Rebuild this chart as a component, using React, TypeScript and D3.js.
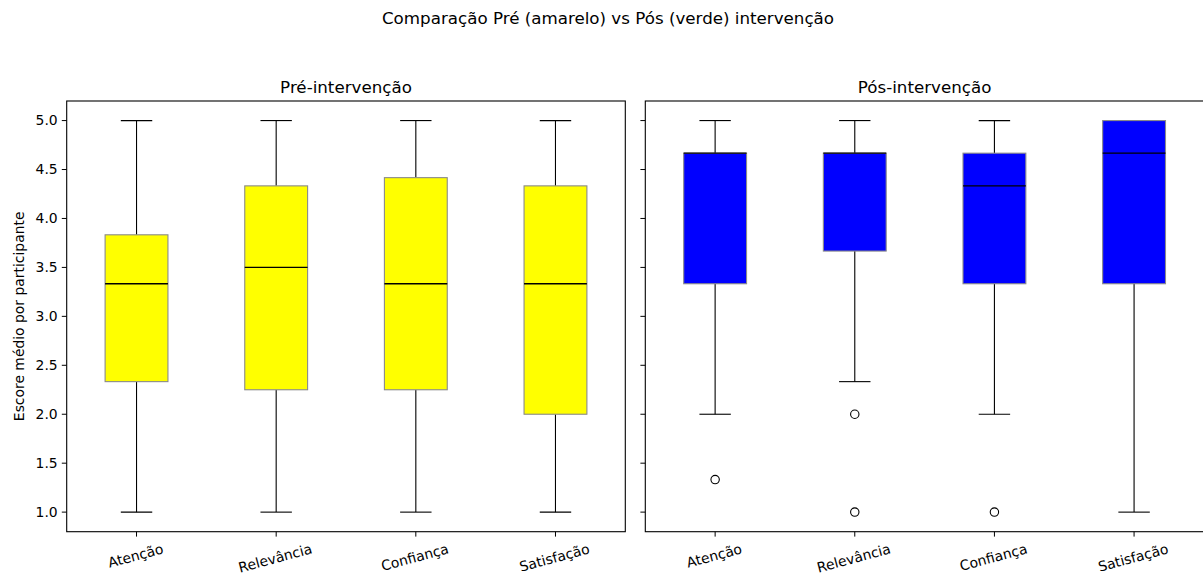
import React, { useEffect, useRef } from "react";
import * as d3 from "d3";

// Likert-scale categories (one box per category)
const categories = ["Atenção", "Relevância", "Confiança", "Satisfação"];

// Pre-intervention five-number summaries per category
const preWhiskerLow = [1.0, 1.0, 1.0, 1.0];
const preQ1 = [2.333, 2.25, 2.25, 2.0];
const preMedian = [3.333, 3.5, 3.333, 3.333];
const preQ3 = [3.833, 4.333, 4.417, 4.333];
const preWhiskerHigh = [5.0, 5.0, 5.0, 5.0];
const preOutliers: number[][] = [[], [], [], []];

// Post-intervention five-number summaries per category
const postWhiskerLow = [2.0, 2.333, 2.0, 1.0];
const postQ1 = [3.333, 3.667, 3.333, 3.333];
const postMedian = [4.667, 4.667, 4.333, 4.667];
const postQ3 = [4.667, 4.667, 4.667, 5.0];
const postWhiskerHigh = [5.0, 5.0, 5.0, 5.0];
const postOutliers: number[][] = [[1.333], [2.0, 1.0], [1.0], []];

const yTicks = [1.0, 1.5, 2.0, 2.5, 3.0, 3.5, 4.0, 4.5, 5.0];

const WIDTH = 1203;
const HEIGHT = 573;
const FONT = "DejaVu Sans, sans-serif";
const TICK_FS = 13.9;
const TITLE_FS = 16.7;

type Panel = {
  title: string;
  left: number;
  fill: string;
  low: number[];
  q1: number[];
  med: number[];
  q3: number[];
  high: number[];
  outliers: number[][];
  showYLabels: boolean;
};

export default function App() {
  const ref = useRef<SVGSVGElement | null>(null);

  useEffect(() => {
    const svg = d3.select(ref.current);
    svg.selectAll("*").remove();

    const top = 101;
    const bottom = 531.7;
    const panelW = 558.6;

    const y = d3.scaleLinear().domain([0.8, 5.2]).range([bottom, top]);

    svg
      .append("text")
      .attr("x", 608)
      .attr("y", 24)
      .attr("text-anchor", "middle")
      .attr("font-family", FONT)
      .attr("font-size", TITLE_FS)
      .attr("fill", "#000")
      .text("Comparação Pré (amarelo) vs Pós (verde) intervenção");

    svg
      .append("text")
      .attr("transform", `translate(23.5,${(top + bottom) / 2}) rotate(-90)`)
      .attr("text-anchor", "middle")
      .attr("font-family", FONT)
      .attr("font-size", TICK_FS)
      .attr("fill", "#000")
      .text("Escore médio por participante");

    const panels: Panel[] = [
      {
        title: "Pré-intervenção",
        left: 66.7,
        fill: "#ffff00",
        low: preWhiskerLow,
        q1: preQ1,
        med: preMedian,
        q3: preQ3,
        high: preWhiskerHigh,
        outliers: preOutliers,
        showYLabels: true,
      },
      {
        title: "Pós-intervenção",
        left: 645.3,
        fill: "#0000ff",
        low: postWhiskerLow,
        q1: postQ1,
        med: postMedian,
        q3: postQ3,
        high: postWhiskerHigh,
        outliers: postOutliers,
        showYLabels: false,
      },
    ];

    panels.forEach((p) => {
      const x = d3.scaleLinear().domain([0.5, 4.5]).range([p.left, p.left + panelW]);
      const g = svg.append("g");
      const boxW = x(0.45) - x(0);
      const capW = x(0.225) - x(0);

      // subplot title
      g.append("text")
        .attr("x", p.left + panelW / 2)
        .attr("y", top - 8)
        .attr("text-anchor", "middle")
        .attr("font-family", FONT)
        .attr("font-size", TITLE_FS)
        .attr("fill", "#000")
        .text(p.title);

      categories.forEach((c, i) => {
        const cx = x(i + 1);
        // whiskers
        g.append("line")
          .attr("x1", cx).attr("x2", cx)
          .attr("y1", y(p.q3[i])).attr("y2", y(p.high[i]))
          .attr("stroke", "#000").attr("stroke-width", 1.1);
        g.append("line")
          .attr("x1", cx).attr("x2", cx)
          .attr("y1", y(p.q1[i])).attr("y2", y(p.low[i]))
          .attr("stroke", "#000").attr("stroke-width", 1.1);
        // caps
        [p.low[i], p.high[i]].forEach((v) => {
          g.append("line")
            .attr("x1", cx - capW / 2).attr("x2", cx + capW / 2)
            .attr("y1", y(v)).attr("y2", y(v))
            .attr("stroke", "#000").attr("stroke-width", 1.1);
        });
        // box
        g.append("rect")
          .attr("x", cx - boxW / 2)
          .attr("y", y(p.q3[i]))
          .attr("width", boxW)
          .attr("height", y(p.q1[i]) - y(p.q3[i]))
          .attr("fill", p.fill)
          .attr("stroke", "#8a8a8a")
          .attr("stroke-width", 1.1);
        // median
        g.append("line")
          .attr("x1", cx - boxW / 2).attr("x2", cx + boxW / 2)
          .attr("y1", y(p.med[i])).attr("y2", y(p.med[i]))
          .attr("stroke", "#000").attr("stroke-width", 1.3);
        // outliers
        p.outliers[i].forEach((v) => {
          g.append("circle")
            .attr("cx", cx).attr("cy", y(v)).attr("r", 4.2)
            .attr("fill", "none")
            .attr("stroke", "#000").attr("stroke-width", 1.1);
        });
      });

      // y ticks
      yTicks.forEach((t) => {
        g.append("line")
          .attr("x1", p.left - 4.9).attr("x2", p.left)
          .attr("y1", y(t)).attr("y2", y(t))
          .attr("stroke", "#000").attr("stroke-width", 1);
        if (p.showYLabels) {
          g.append("text")
            .attr("x", p.left - 9)
            .attr("y", y(t))
            .attr("dy", "0.35em")
            .attr("text-anchor", "end")
            .attr("font-family", FONT)
            .attr("font-size", TICK_FS)
            .attr("fill", "#000")
            .text(t.toFixed(1));
        }
      });

      // x ticks with labels rotated 15°
      categories.forEach((c, i) => {
        const cx = x(i + 1);
        g.append("line")
          .attr("x1", cx).attr("x2", cx)
          .attr("y1", bottom).attr("y2", bottom + 4.9)
          .attr("stroke", "#000").attr("stroke-width", 1);
        const t = g.append("text")
          .attr("text-anchor", "middle")
          .attr("dominant-baseline", "central")
          .attr("font-family", FONT)
          .attr("font-size", TICK_FS)
          .attr("fill", "#000")
          .text(c);
        const w = (t.node() as SVGTextElement).getComputedTextLength();
        const a = (15 * Math.PI) / 180;
        const h = 14;
        const bh = w * Math.sin(a) + h * Math.cos(a);
        const cy = bottom + 4.9 + 4.9 + bh / 2;
        t.attr("transform", `translate(${cx - 1},${cy}) rotate(-15)`);
      });

      // frame
      g.append("rect")
        .attr("x", p.left)
        .attr("y", top)
        .attr("width", panelW)
        .attr("height", bottom - top)
        .attr("fill", "none")
        .attr("stroke", "#000")
        .attr("stroke-width", 1.1);
    });
  }, []);

  return (
    <svg
      ref={ref}
      width={WIDTH}
      height={HEIGHT}
      style={{ position: "absolute", left: 0, top: 0, background: "#fff" }}
    />
  );
}
